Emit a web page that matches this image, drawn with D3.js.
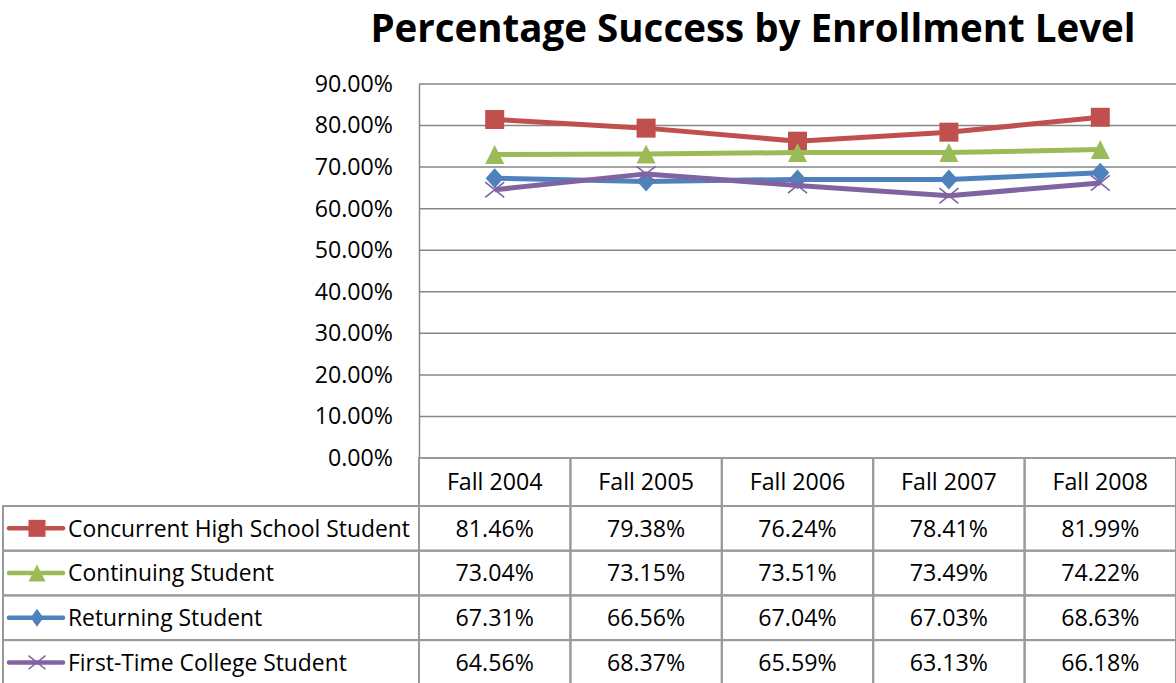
<!DOCTYPE html>
<html><head><meta charset="utf-8">
<script src="https://cdn.jsdelivr.net/npm/d3@7"></script>
<style>
html,body{margin:0;padding:0;background:#fff;}
svg{display:block;font-family:"Open Sans",sans-serif;}
</style></head>
<body>
<svg id="c" width="1176" height="683"></svg>
<script>
const title = "Percentage Success by Enrollment Level";
const categories = ["Fall 2004","Fall 2005","Fall 2006","Fall 2007","Fall 2008"];
const yTicks = [0,10,20,30,40,50,60,70,80,90];
const seriesNames = ["Concurrent High School Student","Continuing Student","Returning Student","First-Time College Student"];
const concurrent = [81.46,79.38,76.24,78.41,81.99];
const continuing = [73.04,73.15,73.51,73.49,74.22];
const returning = [67.31,66.56,67.04,67.03,68.63];
const firstTime = [64.56,68.37,65.59,63.13,66.18];
const seriesValues = [concurrent,continuing,returning,firstTime];
const colors = ["#C0504D","#9BBB59","#4F81BD","#8064A2"];
const markers = ["square","triangle","diamond","x"];

const svg = d3.select("#c");
const plotL = 419, plotR = 1176, plotT = 84, plotB = 458;
const x = d3.scaleBand().domain(categories).range([plotL, plotR]).padding(0);
const y = d3.scaleLinear().domain([0,90]).range([plotB, plotT]);
const gridColor = "#868686", tableColor = "#9a9a9a";
const fs = 23.2;

// title
svg.append("text").attr("x",753).attr("y",42).attr("text-anchor","middle")
  .attr("font-size",38.5).attr("font-weight","bold").attr("fill","#000").text(title);

// gridlines
svg.append("g").selectAll("line").data(yTicks.filter(d=>d>0)).join("line")
  .attr("x1",plotL).attr("x2",plotR).attr("y1",d=>y(d)).attr("y2",d=>y(d))
  .attr("stroke",gridColor).attr("stroke-width",1.5);
// y axis
const yAxis = d3.axisLeft(y).tickValues(yTicks).tickFormat(d=>d.toFixed(2)+"%").tickSize(0).tickPadding(26);
const ya = svg.append("g").attr("transform",`translate(${plotL},0)`).call(yAxis);
ya.select(".domain").attr("stroke",gridColor).attr("stroke-width",1.5);
ya.selectAll("text").attr("font-size",fs).attr("fill","#000").attr("font-family","Open Sans");

// lines
const line = d3.line().x((d,i)=>x(categories[i])+x.bandwidth()/2).y(d=>y(d));
function drawMarker(g, type, cx, cy, s, color, dw){
  if(type==="square") g.append("rect").attr("x",cx-s/2).attr("y",cy-s/2).attr("width",s).attr("height",s).attr("fill",color);
  else if(type==="triangle"){const h=s; g.append("path").attr("d",`M${cx},${cy-h/2}L${cx+s/2},${cy+h/2}L${cx-s/2},${cy+h/2}Z`).attr("fill",color);}
  else if(type==="diamond"){const w=s*(dw||0.95),h=s*1.05; g.append("path").attr("d",`M${cx},${cy-h/2}L${cx+w/2},${cy}L${cx},${cy+h/2}L${cx-w/2},${cy}Z`).attr("fill",color);}
  else {const r=s/2; g.append("path").attr("d",`M${cx-r},${cy-r*0.8}L${cx+r},${cy+r*0.8}M${cx+r},${cy-r*0.8}L${cx-r},${cy+r*0.8}`).attr("stroke",color).attr("stroke-width",1.6).attr("fill","none");}
}
seriesValues.forEach((vals,si)=>{
  const g = svg.append("g");
  g.append("path").attr("d",line(vals)).attr("fill","none").attr("stroke",colors[si]).attr("stroke-width",5).attr("stroke-linejoin","round");
  vals.forEach((v,i)=>drawMarker(g, markers[si], x(categories[i])+x.bandwidth()/2, y(v), 19, colors[si]));
});

// data table
const headerB = 506;
const rowY = d3.scaleBand().domain(seriesNames).range([headerB, headerB+44.7*4]).padding(0);
const tbl = svg.append("g");
categories.forEach(c=>{
  tbl.append("rect").attr("x",x(c)).attr("y",plotB).attr("width",x.bandwidth()).attr("height",headerB-plotB)
    .attr("fill","none").attr("stroke",tableColor).attr("stroke-width",2);
  tbl.append("text").attr("x",x(c)+x.bandwidth()/2).attr("y",(plotB+headerB)/2).attr("dy","0.36em")
    .attr("text-anchor","middle").attr("font-size",fs).attr("fill","#000").text(c);
});
seriesNames.forEach((n,si)=>{
  const ry = rowY(n), rh = rowY.bandwidth();
  tbl.append("rect").attr("x",3).attr("y",ry).attr("width",plotL-3).attr("height",rh)
    .attr("fill","none").attr("stroke",tableColor).attr("stroke-width",2);
  const cy = ry+rh/2;
  tbl.append("line").attr("x1",9).attr("x2",63).attr("y1",cy).attr("y2",cy).attr("stroke",colors[si]).attr("stroke-width",4.5).attr("stroke-linecap","round");
  drawMarker(tbl, markers[si], 37, cy, 17, colors[si], 0.75);
  tbl.append("text").attr("x",68).attr("y",cy).attr("dy","0.36em").attr("font-size",fs*0.985).attr("fill","#000").text(n);
  categories.forEach((c,i)=>{
    tbl.append("rect").attr("x",x(c)).attr("y",ry).attr("width",x.bandwidth()).attr("height",rh)
      .attr("fill","none").attr("stroke",tableColor).attr("stroke-width",2);
    tbl.append("text").attr("x",x(c)+x.bandwidth()/2).attr("y",cy).attr("dy","0.36em")
      .attr("text-anchor","middle").attr("font-size",fs).attr("fill","#000").text(seriesValues[si][i].toFixed(2)+"%");
  });
});
</script>
</body></html>
